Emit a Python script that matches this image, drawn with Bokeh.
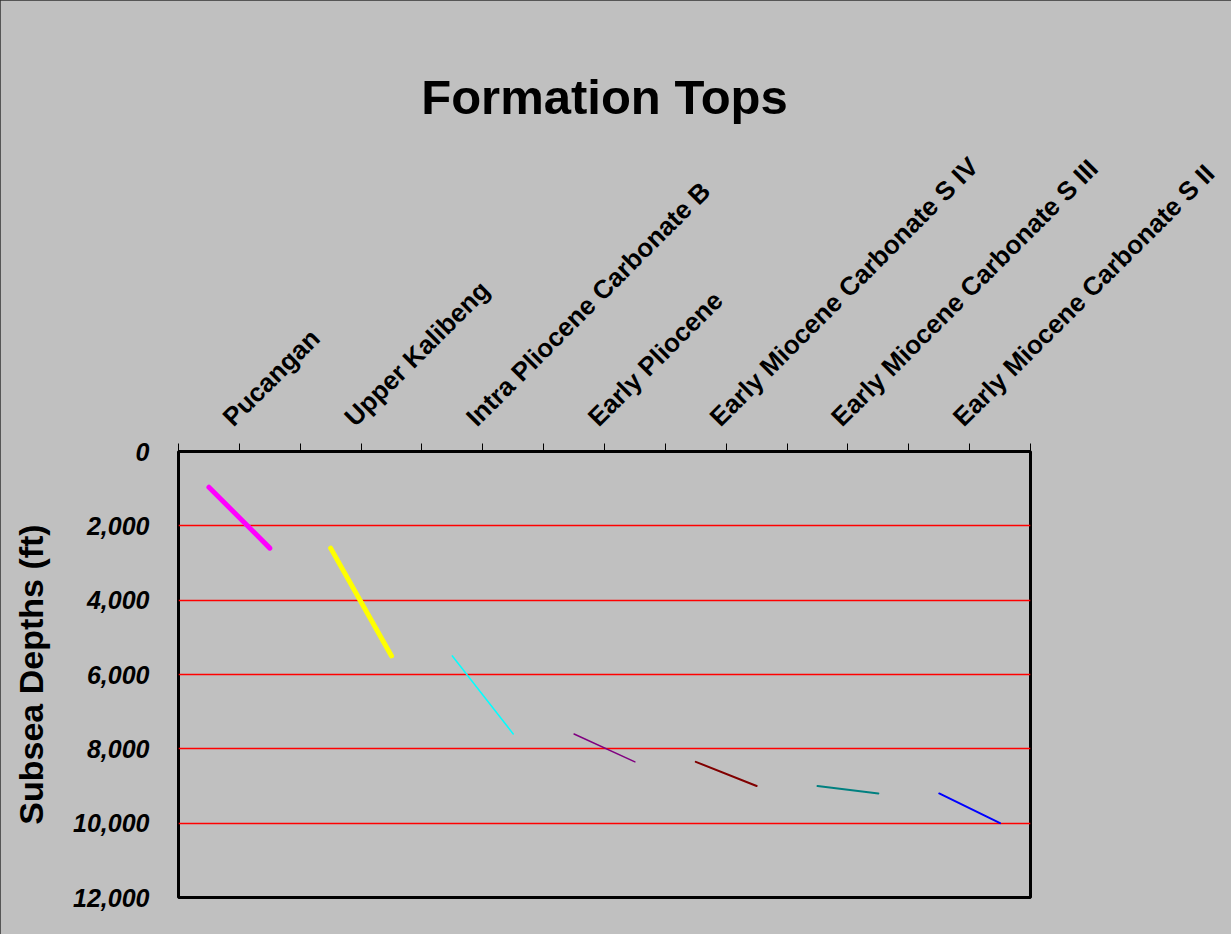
import math
from bokeh.plotting import figure
from bokeh.models import Range1d, FixedTicker, NumeralTickFormatter, ColumnDataSource, LinearAxis
from bokeh.embed import file_html
from bokeh.resources import INLINE

formations = ["Pucangan", "Upper Kalibeng", "Intra Pliocene Carbonate B", "Early Pliocene",
              "Early Miocene Carbonate S IV", "Early Miocene Carbonate S III", "Early Miocene Carbonate S II"]
top_depth = [960, 2600, 5500, 7600, 8350, 9000, 9200]
base_depth = [2600, 5500, 7600, 8350, 9000, 9200, 10000]
colors = ["#FF00FF", "#FFFF00", "#00FFFF", "#800080", "#800000", "#008080", "#0000FF"]
widths = [5, 5, 1.5, 1.5, 2, 2, 2]
y_ticks = [0, 2000, 4000, 6000, 8000, 10000, 12000]

idx = list(range(len(formations)))
src = ColumnDataSource(dict(
    x0=[i + 0.25 for i in idx], x1=[i + 0.75 for i in idx],
    y0=top_depth, y1=base_depth, color=colors, w=widths))

BG = "#C0C0C0"
p = figure(width=1231, height=934, output_backend="svg", toolbar_location=None,
           x_range=Range1d(0, len(formations)), y_range=Range1d(12000, 0),
           x_axis_location="above", min_border_left=178, min_border_right=201,
           min_border_top=451, min_border_bottom=37)
p.background_fill_color = BG
p.border_fill_color = BG
p.outline_line_color = "black"
p.outline_line_width = 3

p.segment("x0", "y0", "x1", "y1", source=src, line_color="color", line_width="w", line_cap="round")

# x axis on top: tick marks only
xa = p.xaxis[0]
xt = [i * 0.5 for i in range(2 * len(formations) + 1)]
xa.ticker = FixedTicker(ticks=xt)
xa.major_label_overrides = {t: "" for t in xt}
xa.major_label_text_font_size = "0px"
xa.major_label_standoff = 0
xa.major_tick_out = 8
xa.major_tick_in = 0
xa.major_tick_line_color = "black"
xa.minor_tick_line_color = None
xa.axis_line_color = None

# second top axis: category labels
lt = [round(i + 0.4, 2) for i in idx]
xl = LinearAxis(ticker=FixedTicker(ticks=lt))
xl.major_label_overrides = {t: formations[i] for i, t in enumerate(lt)}
xl.major_label_orientation = math.pi / 4
xl.major_label_text_font = "Liberation Sans"
xl.major_label_text_font_style = "bold"
xl.major_label_text_font_size = "26px"
xl.major_label_text_color = "black"
xl.major_tick_line_color = None
xl.major_tick_out = 0
xl.major_tick_in = 0
xl.minor_tick_line_color = None
xl.axis_line_color = None
xl.major_label_standoff = 22
p.add_layout(xl, "above")

# y axis
ya = p.yaxis[0]
ya.ticker = FixedTicker(ticks=y_ticks)
ya.formatter = NumeralTickFormatter(format="0,0")
ya.major_label_text_font = "Liberation Sans"
ya.major_label_text_font_style = "bold italic"
ya.major_label_text_font_size = "25px"
ya.major_label_text_color = "black"
ya.major_tick_line_color = None
ya.minor_tick_line_color = None
ya.axis_line_color = None
ya.major_label_standoff = 23
ya.axis_label = "Subsea Depths (ft)"
ya.axis_label_text_font = "Liberation Sans"
ya.axis_label_text_font_style = "bold"
ya.axis_label_text_font_size = "34px"
ya.axis_label_text_color = "black"
ya.axis_label_standoff = 20

p.xgrid.grid_line_color = None
p.ygrid.grid_line_color = "#FF0000"
p.ygrid.grid_line_width = 1.5

p.title.text = "Formation Tops"
p.title.text_font = "Liberation Sans"
p.title.text_font_style = "bold"
p.title.text_font_size = "49px"
p.title.align = "center"
p.title.text_color = "black"
p.title.offset = 8
p.title.standoff = 28

p.styles = {"outline": "2px solid #333333", "outline-offset": "-2px"}

open("out.html", "w").write(file_html(p, INLINE))
